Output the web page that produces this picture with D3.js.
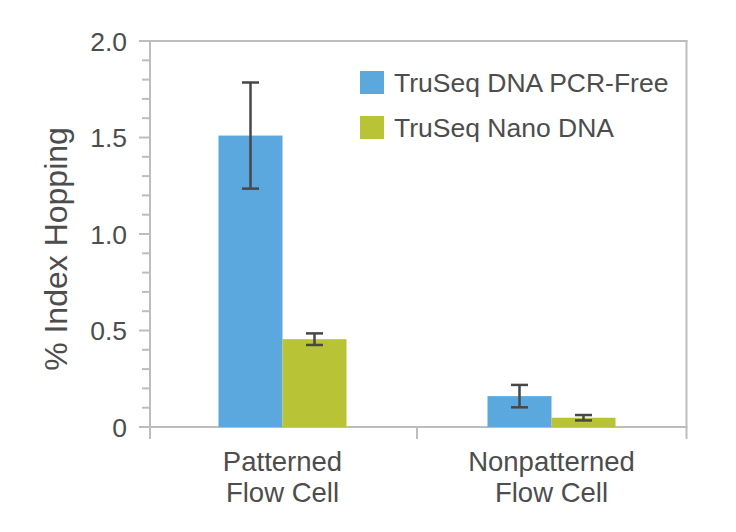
<!DOCTYPE html>
<html><head><meta charset="utf-8">
<script src="https://cdn.jsdelivr.net/npm/d3@7"></script>
<style>
html,body{margin:0;padding:0;background:#fff;}
text{font-family:"Liberation Sans","Helvetica Neue",Arial,sans-serif;fill:#4d4d4d;}
</style></head>
<body>
<svg id="chart" width="736" height="532"></svg>
<script>
const categories = [["Patterned","Flow Cell"],["Nonpatterned","Flow Cell"]];
const categoryKeys = ["Patterned Flow Cell","Nonpatterned Flow Cell"];
const series = ["TruSeq DNA PCR-Free","TruSeq Nano DNA"];
const pcrFreeValues = [1.51, 0.16];
const pcrFreeErrors = [0.275, 0.058];
const nanoValues = [0.455, 0.048];
const nanoErrors = [0.03, 0.014];
const yMajorTicks = [0, 0.5, 1.0, 1.5, 2.0];
const yTickLabels = ["0","0.5","1.0","1.5","2.0"];
const colors = ["#5ba8de","#b9c336"];

const values = [pcrFreeValues, nanoValues];
const errors = [pcrFreeErrors, nanoErrors];
const data = [];
categoryKeys.forEach((c,i)=>series.forEach((s,j)=>data.push({cat:c,ser:s,v:values[j][i],e:errors[j][i],j})));

const svg = d3.select("#chart");
const y = d3.scaleLinear().domain([0,2]).range([427,41]);
const x = d3.scaleBand().domain(categoryKeys).range([148,686]).padding(0);
const xs = d3.scaleBand().domain(series).range([-64,64]).padding(0);
const frameColor = "#bdbdbd";
const left = 150, right = 686.5;

// frame
const g = svg.append("g");
g.append("line").attr("x1",139).attr("x2",right+1).attr("y1",y(2)).attr("y2",y(2)).attr("stroke",frameColor).attr("stroke-width",2);
g.append("line").attr("x1",right).attr("x2",right).attr("y1",y(2)-1).attr("y2",y(0)+12).attr("stroke",frameColor).attr("stroke-width",2);

// y axis
const minor = d3.range(0,2.0001,0.1).map(v=>+v.toFixed(1)).filter(v=>!yMajorTicks.some(m=>Math.abs(m-v)<1e-6));
g.selectAll(".minor").data(minor).join("line").attr("x1",142).attr("x2",left).attr("y1",d=>y(d)).attr("y2",d=>y(d)).attr("stroke",frameColor).attr("stroke-width",2);
g.selectAll(".major").data(yMajorTicks).join("line").attr("x1",139).attr("x2",left).attr("y1",d=>y(d)).attr("y2",d=>y(d)).attr("stroke",frameColor).attr("stroke-width",2);
g.append("line").attr("x1",left).attr("x2",left).attr("y1",y(2)).attr("y2",y(0)+12).attr("stroke",frameColor).attr("stroke-width",2);
g.selectAll(".ylab").data(yMajorTicks).join("text").attr("x",127).attr("y",d=>y(d)).attr("dy","0.36em").attr("text-anchor","end").attr("font-size",26.5).text((d,i)=>yTickLabels[i]);
g.append("text").attr("transform","translate(67,249) rotate(-90)").attr("text-anchor","middle").attr("font-size",32).text("% Index Hopping");

// bars
svg.append("g").selectAll("rect").data(data).join("rect")
  .attr("x",d=>x(d.cat)+x.bandwidth()/2+xs(d.ser)).attr("width",xs.bandwidth())
  .attr("y",d=>y(d.v)).attr("height",d=>y(0)-y(d.v)).attr("fill",d=>colors[d.j]);

// x axis
g.append("line").attr("x1",139).attr("x2",right+1).attr("y1",y(0)).attr("y2",y(0)).attr("stroke",frameColor).attr("stroke-width",2);
const bounds = [x(categoryKeys[0]), x(categoryKeys[1]), x(categoryKeys[1])+x.bandwidth()];
g.selectAll(".xt").data(bounds.slice(1,2)).join("line").attr("x1",d=>d).attr("x2",d=>d).attr("y1",y(0)).attr("y2",y(0)+12).attr("stroke",frameColor).attr("stroke-width",2);

// error bars
const eb = svg.append("g").attr("stroke","#474747").attr("stroke-width",2.5);
data.forEach(d=>{
  const cx = x(d.cat)+x.bandwidth()/2+xs(d.ser)+xs.bandwidth()/2;
  eb.append("line").attr("x1",cx).attr("x2",cx).attr("y1",y(d.v+d.e)).attr("y2",y(d.v-d.e));
  [d.v+d.e,d.v-d.e].forEach(v=>eb.append("line").attr("x1",cx-8.5).attr("x2",cx+8.5).attr("y1",y(v)).attr("y2",y(v)));
});

// category labels
categoryKeys.forEach((c,i)=>{
  const t = svg.append("text").attr("text-anchor","middle").attr("font-size",27.5);
  categories[i].forEach((line,k)=>t.append("tspan").attr("x",x(c)+x.bandwidth()/2).attr("y",471+k*31).text(line));
});

// legend
const lg = svg.append("g");
series.forEach((s,i)=>{
  lg.append("rect").attr("x",360).attr("y",71+i*45).attr("width",24).attr("height",23).attr("fill",colors[i]);
  lg.append("text").attr("x",394).attr("y",82.5+i*45).attr("dy","0.36em").attr("font-size",26.5).text(s);
});
</script>
</body></html>
